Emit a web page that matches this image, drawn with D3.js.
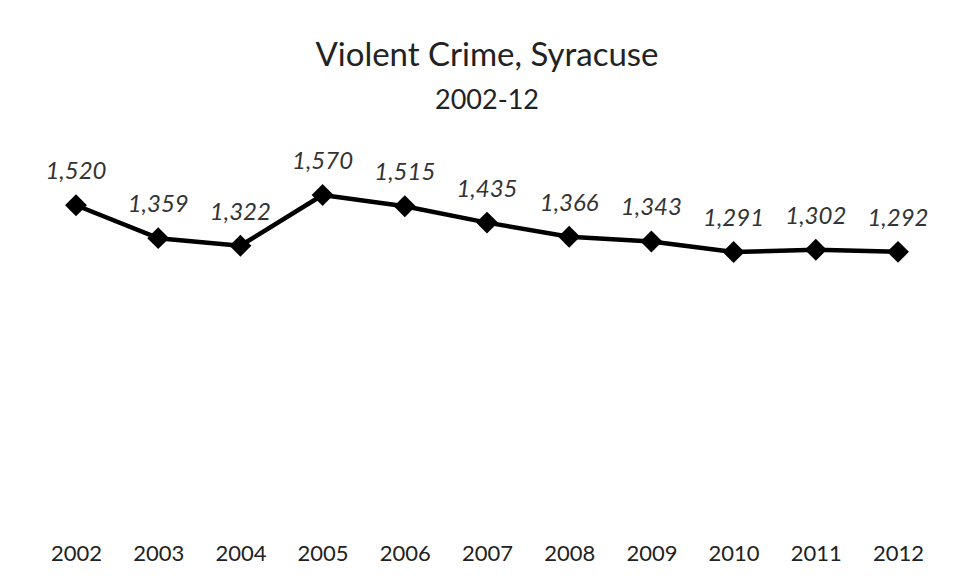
<!DOCTYPE html>
<html><head><meta charset="utf-8">
<script src="https://cdn.jsdelivr.net/npm/d3@7"></script>
<style>body{margin:0;background:#fff}svg{display:block}</style>
</head><body>
<script>
const years = ["2002","2003","2004","2005","2006","2007","2008","2009","2010","2011","2012"];
const values = [1520,1359,1322,1570,1515,1435,1366,1343,1291,1302,1292];
const titleText = "Violent Crime, Syracuse";
const subtitleText = "2002-12";

const W = 956, H = 581;
const svg = d3.select("body").append("svg").attr("width", W).attr("height", H);
const font = "Lato, 'Open Sans', sans-serif";

const x = d3.scalePoint().domain(years).range([76, 898]);
const y = d3.scaleLinear().domain([0, 1800]).range([516, 148]);

svg.append("text").attr("x", 487).attr("y", 66).attr("text-anchor", "middle")
  .attr("font-family", font).attr("font-size", 33).attr("fill", "#222").text(titleText);
svg.append("text").attr("x", 487).attr("y", 109).attr("text-anchor", "middle")
  .attr("font-family", font).attr("font-size", 27).attr("fill", "#222").text(subtitleText);

const xAxis = d3.axisBottom(x).tickSize(0).tickPadding(0);
const gx = svg.append("g").attr("transform", "translate(0,545)").call(xAxis);
gx.select(".domain").remove();
gx.selectAll("text").attr("font-family", font).attr("font-size", 22).attr("fill", "#222");

const data = years.map((yr, i) => ({yr, v: values[i]}));
svg.append("path").datum(data)
  .attr("d", d3.line().x(d => x(d.yr)).y(d => y(d.v)))
  .attr("fill", "none").attr("stroke", "#000").attr("stroke-width", 4.5).attr("stroke-linejoin", "round");

svg.selectAll(".m").data(data).enter().append("path")
  .attr("transform", d => `translate(${x(d.yr)},${y(d.v)}) rotate(45)`)
  .attr("d", d3.symbol().type(d3.symbolSquare).size(240)).attr("fill", "#000");

svg.selectAll(".lbl").data(data).enter().append("text")
  .attr("x", d => x(d.yr)).attr("y", d => y(d.v) - 26)
  .attr("text-anchor", "middle").attr("font-family", font).attr("font-style", "italic")
  .attr("font-size", 24).attr("fill", "#333")
  .text(d => d3.format(",")(d.v));
</script>
</body></html>
